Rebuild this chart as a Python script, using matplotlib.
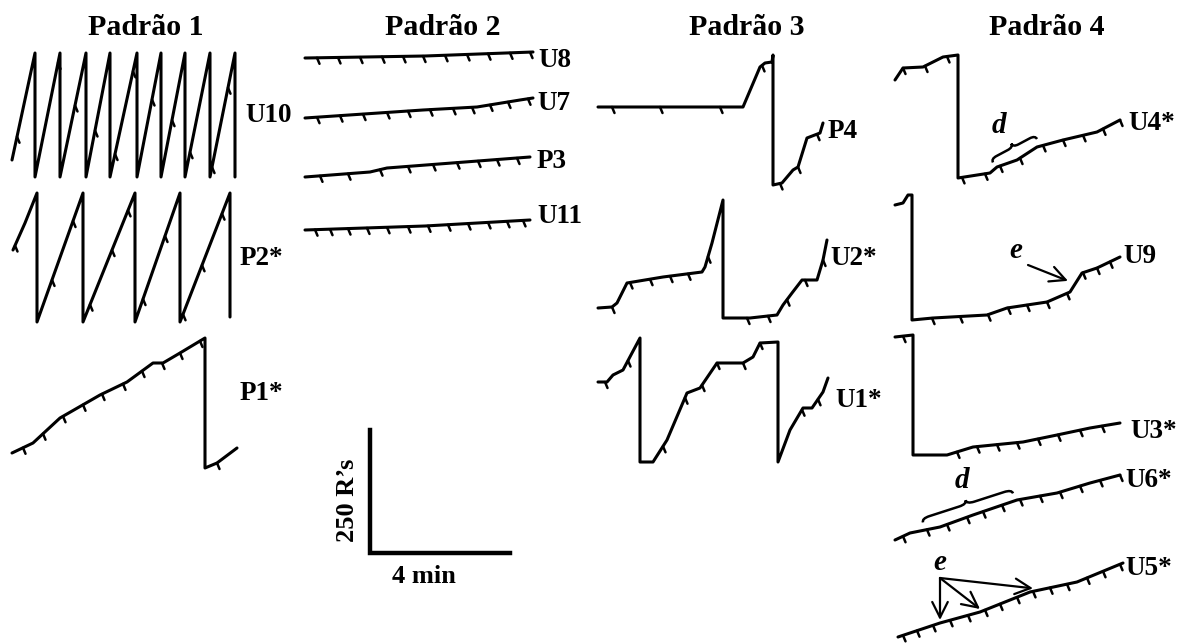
import numpy as np
import matplotlib.pyplot as plt
from matplotlib.path import Path
from matplotlib.patches import PathPatch

# Cumulative records: t = time (px from record start), r = responses (px above record baseline)
u10_t = [0, 23, 23, 48, 48, 74, 74, 98, 98, 125, 125, 149, 149, 173, 173, 198, 198, 223, 223]
u10_r = [17, 124, 0, 124, 0, 124, 0, 124, 0, 124, 0, 124, 0, 124, 0, 124, 0, 124, 0]
u10_ticks = [5, 46, 63, 83, 103, 121, 140, 160, 178, 200, 216]

p2_t = [0, 12, 24, 24, 70, 70, 122, 122, 167, 167, 217, 217]
p2_r = [72, 99, 129, 0, 129, 0, 129, 0, 129, 0, 129, 5]
p2_ticks = [2, 39, 60, 77, 99, 115, 130, 152, 170, 189, 209]

p1_t = [0, 21, 48, 88, 115, 141, 151, 168, 193, 193, 205, 225]
p1_r = [15, 25, 50, 73, 86, 105, 105, 115, 130, 0, 5, 20]
p1_ticks = [11, 31, 51, 71, 90, 111, 130, 150, 168, 188, 205]

u8_t = [0, 120, 228]
u8_r = [0, 2, 6]
u8_ticks = [12, 33, 55, 77, 98, 118, 140, 162, 183, 205, 225]

u7_t = [0, 118, 172, 215, 228]
u7_r = [0, 8, 11, 18, 20]
u7_ticks = [12, 35, 58, 82, 103, 125, 148, 167, 185, 203, 223]

p3_t = [0, 65, 82, 225]
p3_r = [0, 5, 9, 20]
p3_ticks = [15, 43, 75, 103, 128, 152, 173, 192, 212]

u11_t = [0, 120, 225]
u11_r = [0, 4, 10]
u11_ticks = [10, 25, 43, 62, 82, 103, 123, 143, 163, 183, 202, 218]

p4_t = [0, 145, 162, 167, 174, 175, 175, 184, 195, 200, 209, 222, 225]
p4_r = [78, 78, 118, 122, 123, 130, 0, 2, 15, 18, 47, 52, 62]
p4_ticks = [14, 62, 122, 164, 182, 200, 219]

u2_t = [0, 14, 19, 29, 65, 104, 107, 114, 125, 125, 152, 179, 185, 194, 204, 219, 225, 229]
u2_r = [10, 11, 15, 35, 41, 46, 51, 75, 118, 0, 0, 3, 13, 25, 38, 38, 58, 78]
u2_ticks = [14, 32, 52, 72, 90, 110, 149, 170, 189, 207, 225]

u1_t = [0, 9, 15, 25, 34, 42, 42, 55, 69, 89, 102, 119, 145, 155, 162, 180, 180, 192, 205, 214, 225, 230]
u1_r = [80, 80, 87, 92, 109, 124, 0, 0, 22, 69, 74, 99, 99, 105, 119, 120, 0, 32, 54, 54, 70, 84]
u1_ticks = [7, 30, 65, 87, 104, 119, 145, 162, 204, 220]

u4_t = [0, 8, 28, 48, 63, 63, 95, 102, 122, 142, 168, 202, 225]
u4_r = [98, 110, 111, 121, 123, 0, 5, 11, 18, 31, 38, 46, 58]
u4_ticks = [8, 30, 52, 67, 90, 105, 125, 148, 168, 188, 208, 225]

u9_t = [0, 8, 13, 17, 17, 38, 92, 112, 152, 175, 187, 202, 225]
u9_r = [115, 117, 125, 125, 0, 2, 5, 12, 18, 28, 47, 52, 63]
u9_ticks = [37, 65, 93, 113, 132, 152, 172, 188, 202, 215]

u3_t = [0, 18, 18, 52, 78, 128, 162, 195, 225]
u3_r = [118, 120, 0, 0, 8, 13, 20, 27, 32]
u3_ticks = [8, 62, 82, 102, 122, 143, 163, 185, 207]

u6_t = [0, 15, 45, 78, 122, 162, 195, 225]
u6_r = [0, 7, 13, 25, 40, 47, 57, 65]
u6_ticks = [8, 32, 52, 72, 88, 107, 125, 145, 165, 185, 205, 225]

u5_t = [0, 42, 82, 132, 179, 225]
u5_r = [0, 14, 25, 45, 55, 74]
u5_ticks = [5, 19, 35, 52, 70, 87, 102, 119, 135, 152, 169, 189, 205, 222]

# scale bar: 250 responses and 4 minutes
scale_resp = 250
scale_min = 4

records = {
    'U10': (u10_t, u10_r, u10_ticks),
    'P2*': (p2_t, p2_r, p2_ticks),
    'P1*': (p1_t, p1_r, p1_ticks),
    'U8': (u8_t, u8_r, u8_ticks),
    'U7': (u7_t, u7_r, u7_ticks),
    'P3': (p3_t, p3_r, p3_ticks),
    'U11': (u11_t, u11_r, u11_ticks),
    'P4': (p4_t, p4_r, p4_ticks),
    'U2*': (u2_t, u2_r, u2_ticks),
    'U1*': (u1_t, u1_r, u1_ticks),
    'U4*': (u4_t, u4_r, u4_ticks),
    'U9': (u9_t, u9_r, u9_ticks),
    'U3*': (u3_t, u3_r, u3_ticks),
    'U6*': (u6_t, u6_r, u6_ticks),
    'U5*': (u5_t, u5_r, u5_ticks),
}

# layout (pixels): record origin and label position
origin = {
    'U10': (12, 177), 'P2*': (13, 322), 'P1*': (12, 468),
    'U8': (305, 58), 'U7': (305, 118), 'P3': (305, 177), 'U11': (305, 230),
    'P4': (598, 185), 'U2*': (598, 318), 'U1*': (598, 462),
    'U4*': (895, 178), 'U9': (895, 320), 'U3*': (895, 455), 'U6*': (895, 540), 'U5*': (898, 637),
}
label_pos = {
    'U10': (245, 122), 'P2*': (240, 265), 'P1*': (240, 400),
    'U8': (538, 67), 'U7': (537, 110), 'P3': (537, 168), 'U11': (537, 223),
    'P4': (828, 138), 'U2*': (830, 265), 'U1*': (835, 407),
    'U4*': (1128, 130), 'U9': (1123, 263), 'U3*': (1130, 438), 'U6*': (1125, 487), 'U5*': (1125, 575),
}
titles = ['Padrão 1', 'Padrão 2', 'Padrão 3', 'Padrão 4']
title_x = [146, 443, 747, 1047]

serif = 'Liberation Serif'

fig = plt.figure(figsize=(11.86, 6.44), dpi=100)
ax = fig.add_axes([0, 0, 1, 1])
ax.set_xlim(0, 1186)
ax.set_ylim(644, 0)
ax.axis('off')


def to_xy(name, t, r):
    x0, y0 = origin[name]
    return x0 + np.asarray(t, float), y0 - np.asarray(r, float)


def point_on(name, tt, gap=0):
    t, r, _ = records[name]
    x, y = to_xy(name, [tt], [np.interp(tt, t, r)])
    return x[0], y[0] - gap


# draw records with their hatch marks
for name, (t, r, ticks) in records.items():
    x, y = to_xy(name, t, r)
    ax.plot(x, y, color='black', lw=2.2, solid_joinstyle='round', solid_capstyle='round')
    tx, ty = to_xy(name, ticks, np.interp(ticks, t, r))
    hx = np.column_stack([tx, tx + 2.5, np.full_like(tx, np.nan)]).ravel()
    hy = np.column_stack([ty, ty + 6, np.full_like(ty, np.nan)]).ravel()
    ax.plot(hx, hy, color='black', lw=1.8, solid_capstyle='round')
    lx, ly = label_pos[name]
    ax.text(lx, ly, name, family=serif, weight='bold', fontsize=19.5, ha='left', va='baseline')

for title, tx in zip(titles, title_x):
    ax.text(tx, 35, title, family=serif, weight='bold', fontsize=21.5, ha='center', va='baseline')

# scale bar
bar_x, bar_y = 370, 553
bar_h = 123 / 250 * scale_resp
bar_w = 140 / 4 * scale_min
ax.plot([bar_x, bar_x, bar_x + bar_w], [bar_y - bar_h, bar_y, bar_y], color='black', lw=3.2,
        solid_joinstyle='miter')
ax.text(347, 500, '250 R’s', family=serif, weight='bold', fontsize=19, rotation=90,
        ha='center', va='center')
ax.text(424, 583, '4 min', family=serif, weight='bold', fontsize=19, ha='center', va='baseline')


def brace(p1, p2, w=4):
    p1, p2 = np.array(p1, float), np.array(p2, float)
    d = p2 - p1
    L = np.hypot(*d)
    u = d / L
    n = np.array([u[1], -u[0]])
    if n[1] > 0:
        n = -n
    m = (p1 + p2) / 2
    a = min(0.12 * L, 8)
    verts = [p1, p1 + n * w, p1 + u * a + n * w,
             m - u * a + n * w, m + n * w, m + n * 2 * w,
             m + n * w, m + u * a + n * w,
             p2 - u * a + n * w, p2 + n * w, p2]
    codes = [Path.MOVETO, Path.CURVE3, Path.CURVE3,
             Path.LINETO, Path.CURVE3, Path.CURVE3,
             Path.CURVE3, Path.CURVE3,
             Path.LINETO, Path.CURVE3, Path.CURVE3]
    ax.add_patch(PathPatch(Path(verts, codes), fc='none', ec='black', lw=1.8))


# "d" braces
brace(point_on('U4*', 98, 8), point_on('U4*', 142, 8))
ax.text(999, 133, 'd', family=serif, weight='bold', style='italic', fontsize=21, ha='center', va='baseline')
brace(point_on('U6*', 28, 8), point_on('U6*', 118, 8))
ax.text(962, 488, 'd', family=serif, weight='bold', style='italic', fontsize=21, ha='center', va='baseline')

# "e" arrows
arrow = dict(arrowstyle='->,head_length=0.7,head_width=0.35', lw=1.6, color='black',
             shrinkA=0, shrinkB=0, mutation_scale=16)
ax.text(1016, 258, 'e', family=serif, weight='bold', style='italic', fontsize=21, ha='center', va='baseline')
ax.annotate('', xy=point_on('U9', 173, 12), xytext=(1028, 265), arrowprops=arrow)
ax.text(940, 570, 'e', family=serif, weight='bold', style='italic', fontsize=21, ha='center', va='baseline')
for tt in [42, 82, 135]:
    ax.annotate('', xy=point_on('U5*', tt, 3), xytext=(940, 578), arrowprops=arrow)

plt.savefig('out.png', dpi=100)
